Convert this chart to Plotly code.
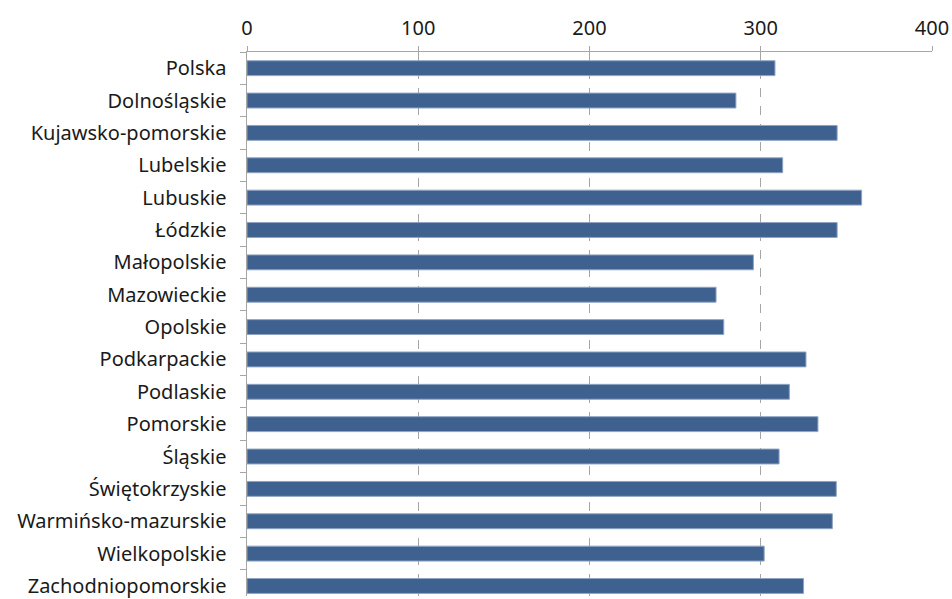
import plotly.graph_objects as go

categories = ["Polska", "Dolnośląskie", "Kujawsko-pomorskie", "Lubelskie", "Lubuskie",
              "Łódzkie", "Małopolskie", "Mazowieckie", "Opolskie", "Podkarpackie",
              "Podlaskie", "Pomorskie", "Śląskie", "Świętokrzyskie", "Warmińsko-mazurskie",
              "Wielkopolskie", "Zachodniopomorskie"]
values = [308.3, 285.5, 344.6, 312.8, 358.9, 344.6, 295.7, 273.9, 278.4, 326.4,
          316.7, 333.4, 310.7, 344.1, 341.8, 302.0, 325.0]
x_ticks = [0, 100, 200, 300, 400]

FONT = "Noto Sans"
FS = 20

fig = go.Figure(go.Bar(
    x=values, y=categories, orientation="h",
    marker=dict(color="#3e6190", line=dict(color="#8ea4c2", width=1)),
    width=0.46,
    hoverinfo="skip",
))

fig.update_layout(
    width=952, height=599,
    margin=dict(l=247, r=20, t=52, b=0, pad=0),
    paper_bgcolor="white", plot_bgcolor="white",
    showlegend=False,
    font=dict(family=FONT, size=FS, color="#1a1a1a"),
    xaxis=dict(
        side="top", range=[0, 400], tickvals=x_ticks,
        showgrid=True, gridcolor="#a6a6a6", griddash="dash", gridwidth=1,
        showline=True, linecolor="#a6a6a6", linewidth=1.5,
        ticks="outside", ticklen=5, tickcolor="#a6a6a6",
        ticklabelstandoff=3,
        tickfont=dict(family=FONT, size=FS, color="#1a1a1a"),
        zeroline=False, fixedrange=True,
    ),
    yaxis=dict(
        type="category", categoryorder="array", categoryarray=categories,
        range=[16.31, -0.5],
        showline=True, linecolor="#a6a6a6", linewidth=1.5,
        ticks="outside", tickson="boundaries", ticklen=6, tickcolor="#a6a6a6",
        ticklabelstandoff=15,
        tickfont=dict(family=FONT, size=FS, color="#1a1a1a"),
        showgrid=False, zeroline=False, fixedrange=True,
    ),
)

fig.write_html(
    "out.html",
    config={"displayModeBar": False, "staticPlot": True},
    post_script="document.body.style.margin='0';document.body.style.overflow='hidden';",
)
